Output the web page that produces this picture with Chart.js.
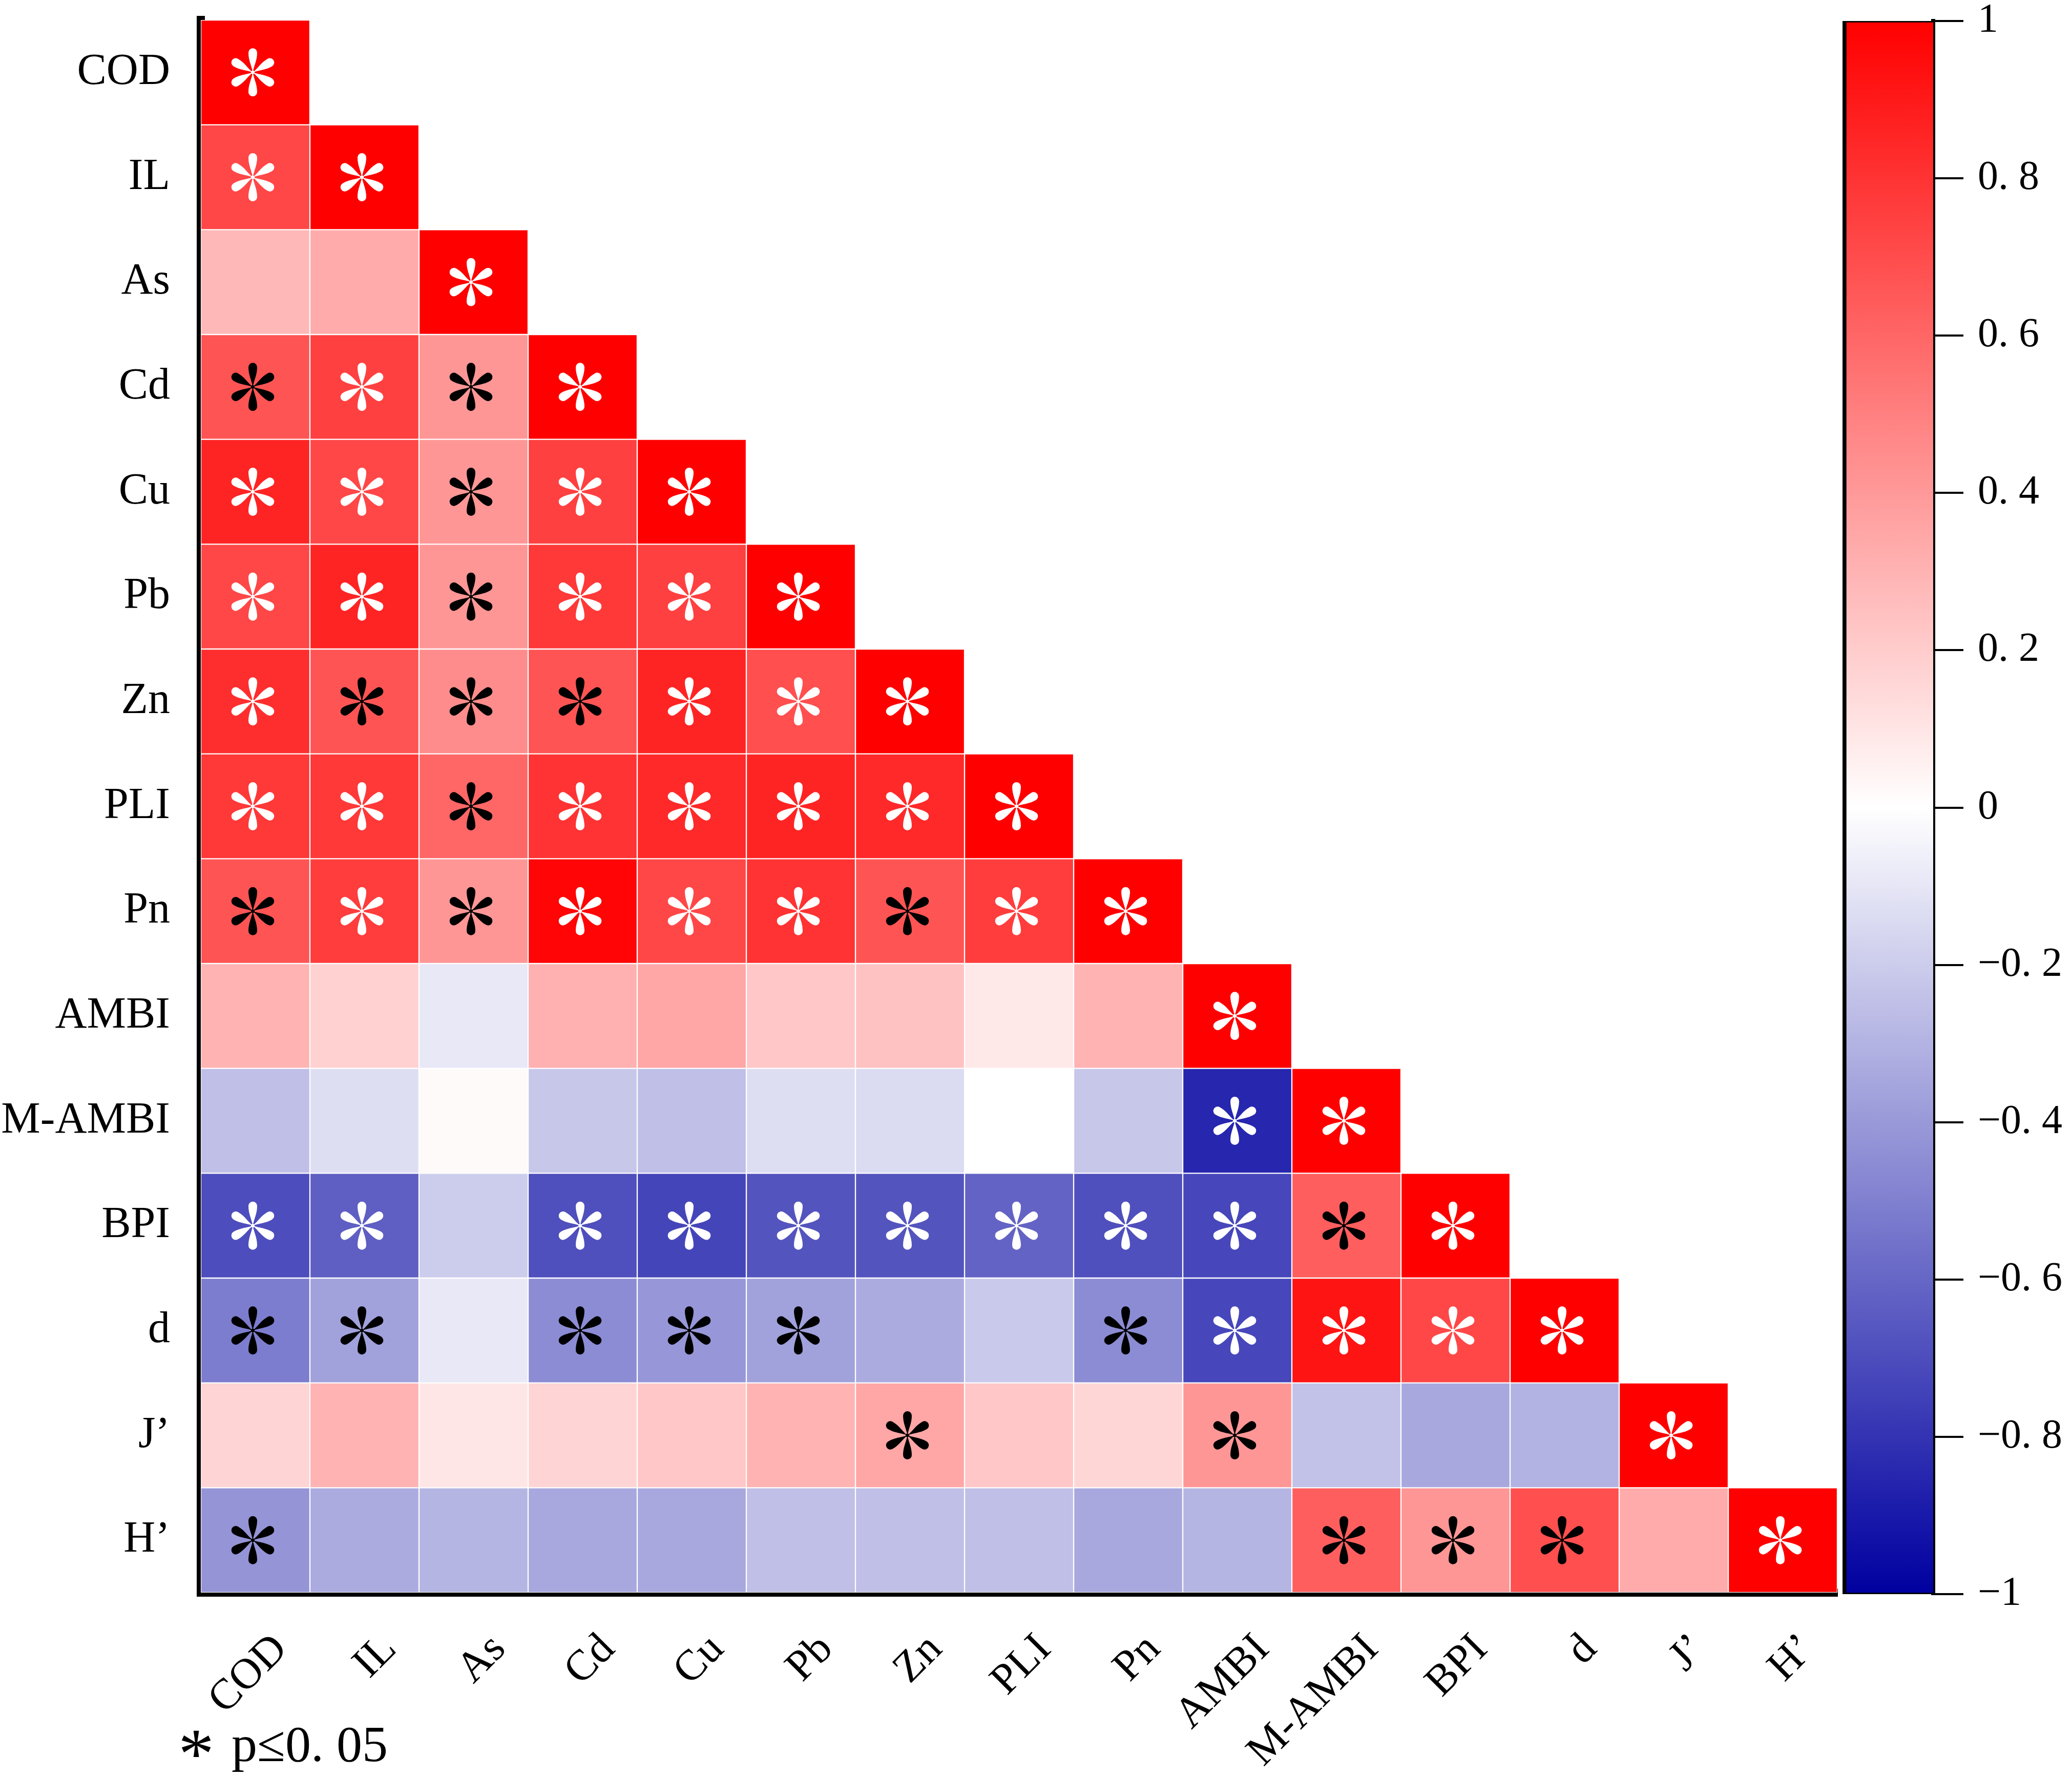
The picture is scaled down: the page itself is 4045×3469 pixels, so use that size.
<!DOCTYPE html>
<html>
<head>
<meta charset="utf-8">
<title>Correlation heatmap</title>
<script src="https://cdn.jsdelivr.net/npm/chart.js@4.4.1/dist/chart.umd.min.js"></script>
<style>
    html, body { margin: 0; padding: 0; background: #fff; overflow: hidden; }
    #wrap { position: relative; width: 4045px; height: 3469px; }
    #heatChart { position: absolute; left: 0; top: 0; }
    #barChart { position: absolute; left: 3560px; top: 0; }
</style>
</head>
<body>
<div id="wrap">
    <canvas id="heatChart" width="3595" height="3469"></canvas>
    <canvas id="barChart" width="485" height="3469"></canvas>
</div>
<script>
// Variables (rows and columns share the same order)
const categories = ['COD', 'IL', 'As', 'Cd', 'Cu', 'Pb', 'Zn', 'PLI', 'Pn', 'AMBI', 'M-AMBI', 'BPI', 'd', 'J’', 'H’'];

// Lower triangle correlation coefficients, one row per variable
const rowCOD   = [1];
const rowIL    = [0.72, 1];
const rowAs    = [0.28, 0.33, 1];
const rowCd    = [0.67, 0.75, 0.41, 1];
const rowCu    = [0.86, 0.72, 0.41, 0.75, 1];
const rowPb    = [0.72, 0.86, 0.41, 0.78, 0.75, 1];
const rowZn    = [0.82, 0.67, 0.45, 0.67, 0.86, 0.69, 1];
const rowPLI   = [0.78, 0.78, 0.60, 0.80, 0.84, 0.86, 0.84, 1];
const rowPn    = [0.67, 0.76, 0.41, 0.98, 0.72, 0.80, 0.67, 0.76, 1];
const rowAMBI  = [0.30, 0.18, -0.09, 0.31, 0.35, 0.22, 0.24, 0.09, 0.30, 1];
const rowMAMBI = [-0.25, -0.13, 0.02, -0.22, -0.25, -0.13, -0.14, 0.00, -0.22, -0.85, 1];
const rowBPI   = [-0.70, -0.63, -0.20, -0.69, -0.73, -0.67, -0.67, -0.61, -0.69, -0.72, 0.63, 1];
const rowD     = [-0.51, -0.37, -0.09, -0.45, -0.41, -0.37, -0.33, -0.21, -0.45, -0.72, 0.92, 0.72, 1];
const rowJ     = [0.17, 0.30, 0.10, 0.17, 0.22, 0.30, 0.35, 0.22, 0.16, 0.41, -0.24, -0.34, -0.30, 1];
const rowH     = [-0.42, -0.33, -0.29, -0.34, -0.34, -0.25, -0.25, -0.25, -0.34, -0.29, 0.63, 0.41, 0.69, 0.33, 1];

// Significance marks (p <= 0.05): w = white star, b = black star, - = none
const sigCOD   = 'w';
const sigIL    = 'ww';
const sigAs    = '--w';
const sigCd    = 'bwbw';
const sigCu    = 'wwbww';
const sigPb    = 'wwbwww';
const sigZn    = 'wbbbwww';
const sigPLI   = 'wwbwwwww';
const sigPn    = 'bwbwwwbww';
const sigAMBI  = '---------w';
const sigMAMBI = '---------ww';
const sigBPI   = 'ww-wwwwwwwbw';
const sigD     = 'bb-bbb--bwwww';
const sigJ     = '------b--b---w';
const sigH     = 'b---------bbb-w';

// Colour bar
const colorbarRange = [-1, 1];
const colorbarStep = 0.2;
const noteText = 'p≤0. 05';

const corrRows = [rowCOD, rowIL, rowAs, rowCd, rowCu, rowPb, rowZn, rowPLI, rowPn, rowAMBI, rowMAMBI, rowBPI, rowD, rowJ, rowH];
const sigRows = [sigCOD, sigIL, sigAs, sigCd, sigCu, sigPb, sigZn, sigPLI, sigPn, sigAMBI, sigMAMBI, sigBPI, sigD, sigJ, sigH];

const SERIF = "'Liberation Serif', 'Times New Roman', serif";

// Blue - white - red colour map
function valueToColor(v) {
    v = Math.max(-1, Math.min(1, v));
    if (v >= 0) {
        const c = Math.round(255 * (1 - v));
        return `rgb(255, ${c}, ${c})`;
    }
    const t = -v;
    const c = Math.round(255 * (1 - t));
    const b = Math.round(255 - (255 - 160) * t);
    return `rgb(${c}, ${c}, ${b})`;
}

// Colour bar tick text, e.g. "0. 8" and "−0. 4"
function formatBarTick(value) {
    const v = Math.round(value * 10);
    if (v === 0) return '0';
    const sign = v < 0 ? '−' : '';
    const a = Math.abs(v);
    if (a === 10) return sign + '1';
    return sign + '0. ' + a;
}

// Draw one six-petal star (thin stems, rounded tips)
function drawStar(ctx, x, y, color) {
    const L = 47;
    const r = 8.5;
    const c = L - r;
    ctx.save();
    ctx.translate(x, y);
    ctx.fillStyle = color;
    for (let k = 0; k < 6; k++) {
        ctx.save();
        ctx.rotate(k * Math.PI / 3);
        ctx.beginPath();
        ctx.moveTo(0, 0);
        ctx.bezierCurveTo(r * 0.3, -L * 0.3, r, -c * 0.6, r, -c);
        ctx.arc(0, -c, r, 0, Math.PI, true);
        ctx.bezierCurveTo(-r, -c * 0.6, -r * 0.3, -L * 0.3, 0, 0);
        ctx.fill();
        ctx.restore();
    }
    ctx.beginPath();
    ctx.arc(0, 0, 3.5, 0, Math.PI * 2);
    ctx.fill();
    ctx.restore();
}

// Stars plugin: marks significant cells from the bar elements
const starPlugin = {
    id: 'stars',
    afterDatasetsDraw(chart) {
        const ctx = chart.ctx;
        sigRows.forEach((sig, r) => {
            const meta = chart.getDatasetMeta(r);
            for (let c = 0; c < sig.length; c++) {
                const mark = sig[c];
                if (mark === '-') continue;
                const el = meta.data[c];
                if (!el) continue;
                const cy = (el.y + el.base) / 2;
                drawStar(ctx, el.x - 5, cy, mark === 'w' ? '#ffffff' : '#000000');
            }
        });
    }
};

// Note plugin: "* p≤0.05" under the x axis
const notePlugin = {
    id: 'note',
    afterDraw(chart) {
        const ctx = chart.ctx;
        ctx.save();
        ctx.fillStyle = '#000';
        ctx.textBaseline = 'alphabetic';
        ctx.textAlign = 'left';
        ctx.font = `140px ${SERIF}`;
        const m = ctx.measureText('*');
        const starMid = (m.actualBoundingBoxAscent - m.actualBoundingBoxDescent) / 2;
        ctx.fillText('*', 348, 3404 + starMid);
        ctx.font = `100px ${SERIF}`;
        ctx.fillText(noteText, 452, 3438);
        ctx.restore();
    }
};

// Setup heatmap
function setupHeatmap() {
    const datasets = corrRows.map((row, r) => ({
        label: categories[r],
        data: categories.map((_, c) => (c < row.length ? [r, r + 1] : null)),
        backgroundColor: categories.map((_, c) => (c < row.length ? valueToColor(row[c]) : 'rgba(0,0,0,0)')),
        borderColor: '#ffffff',
        borderWidth: 1.5,
        borderSkipped: false,
        barPercentage: 1,
        categoryPercentage: 1,
        grouped: false
    }));

    new Chart(document.getElementById('heatChart'), {
        type: 'bar',
        data: { labels: categories, datasets },
        options: {
            responsive: false,
            devicePixelRatio: 1,
            animation: false,
            events: [],
            layout: { padding: { top: 39, right: 8, left: 0, bottom: 0 } },
            plugins: {
                legend: { display: false },
                tooltip: { enabled: false }
            },
            scales: {
                x: {
                    type: 'category',
                    offset: true,
                    grid: { display: false, drawTicks: false },
                    border: { display: true, color: '#000', width: 16 },
                    ticks: {
                        color: '#000',
                        font: { family: SERIF, size: 84 },
                        minRotation: 45,
                        maxRotation: 45,
                        autoSkip: false,
                        padding: 62,
                        labelOffset: 50
                    },
                    afterFit: (scale) => {
                        scale.height = 360;
                        scale.paddingLeft = 0;
                        scale.paddingRight = 0;
                    }
                },
                y: {
                    type: 'linear',
                    min: 0,
                    max: categories.length,
                    reverse: true,
                    grid: { display: false, drawTicks: false },
                    border: { display: true, color: '#000', width: 16 },
                    afterBuildTicks: (scale) => {
                        scale.ticks = categories.map((_, i) => ({ value: i + 0.5 }));
                    },
                    ticks: {
                        color: '#000',
                        font: { family: SERIF, size: 86 },
                        padding: 60,
                        callback: (value) => categories[Math.floor(value)]
                    },
                    afterFit: (scale) => {
                        scale.width = 392;
                        scale.paddingTop = 0;
                        scale.paddingBottom = 0;
                    }
                }
            }
        },
        plugins: [starPlugin, notePlugin]
    });
}

// Setup colour bar
function setupColorbar() {
    new Chart(document.getElementById('barChart'), {
        type: 'bar',
        data: {
            labels: [''],
            datasets: [{
                data: [colorbarRange],
                backgroundColor: (context) => {
                    const chart = context.chart;
                    if (!chart.chartArea) return null;
                    const y = chart.scales.y;
                    const g = chart.ctx.createLinearGradient(0, y.getPixelForValue(-1), 0, y.getPixelForValue(1));
                    for (let i = 0; i <= 20; i++) {
                        g.addColorStop(i / 20, valueToColor(-1 + i * 0.1));
                    }
                    return g;
                },
                borderColor: '#000',
                borderWidth: { left: 8, right: 0, top: 3, bottom: 3 },
                borderSkipped: false,
                barPercentage: 1,
                categoryPercentage: 1
            }]
        },
        options: {
            responsive: false,
            devicePixelRatio: 1,
            animation: false,
            events: [],
            layout: { padding: { top: 41, bottom: 357, left: 37, right: 0 } },
            plugins: {
                legend: { display: false },
                tooltip: { enabled: false }
            },
            scales: {
                x: { display: false },
                y: {
                    position: 'right',
                    min: colorbarRange[0],
                    max: colorbarRange[1],
                    grid: {
                        display: true,
                        drawOnChartArea: false,
                        drawTicks: true,
                        tickLength: 59,
                        color: '#000',
                        lineWidth: 4
                    },
                    border: { display: true, color: '#000', width: 8 },
                    ticks: {
                        stepSize: colorbarStep,
                        color: '#000',
                        font: { family: SERIF, size: 80 },
                        padding: 28,
                        callback: (value) => formatBarTick(value)
                    },
                    afterFit: (scale) => {
                        scale.width = 271;
                        scale.paddingTop = 0;
                        scale.paddingBottom = 0;
                    }
                }
            }
        }
    });
}

setupHeatmap();
setupColorbar();
</script>
</body>
</html>
